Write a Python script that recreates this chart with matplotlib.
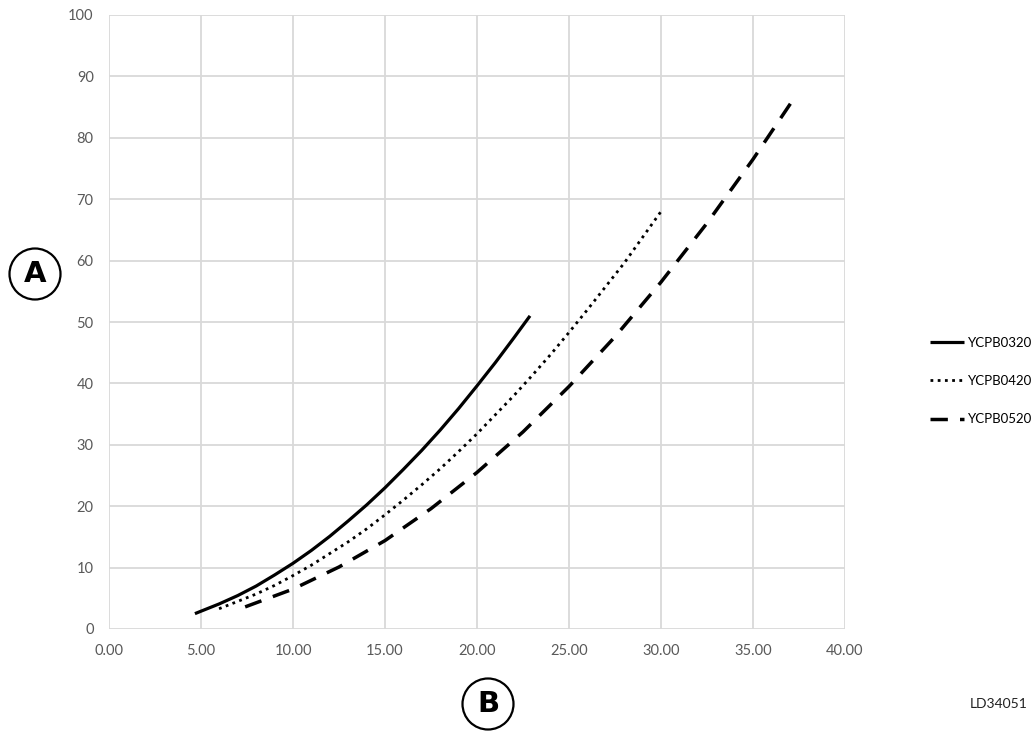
import matplotlib
matplotlib.use("Agg")
import matplotlib.pyplot as plt
from matplotlib.patches import Circle

plt.rcParams['font.family'] = ['Lato', 'DejaVu Sans']

# values
x_0320 = [4.67, 5, 6, 7, 8, 9, 10, 11, 12, 13, 14, 15, 16, 17, 18, 19, 20, 21, 22, 22.88]
y_0320 = [2.5, 2.9, 4.1, 5.45, 7.0, 8.8, 10.7, 12.8, 15.1, 17.6, 20.2, 23.0, 26.0, 29.1,
          32.4, 35.9, 39.6, 43.4, 47.4, 51.0]

x_0420 = [5.98, 7, 8, 9, 10, 11, 12, 13, 14, 15, 16, 17, 18, 19, 20, 21, 22, 23, 24, 25,
          26, 27, 28, 29, 30]
y_0420 = [3.3, 4.5, 5.7, 7.1, 8.7, 10.4, 12.3, 14.2, 16.3, 18.6, 21.0, 23.5, 26.1, 28.9,
          31.8, 34.9, 38.0, 41.3, 44.7, 48.3, 52.0, 55.8, 59.6, 63.8, 68.0]

x_0520 = [7.4, 10, 12.5, 15, 17.5, 20, 22.5, 25, 27.5, 30, 32.5, 35, 37.2]
y_0520 = [3.6, 6.5, 10.1, 14.4, 19.6, 25.5, 32.1, 39.5, 47.6, 56.5, 66.1, 76.5, 86.3]

x_ticks = [0, 5, 10, 15, 20, 25, 30, 35, 40]
y_ticks = [0, 10, 20, 30, 40, 50, 60, 70, 80, 90, 100]

fig = plt.figure(figsize=(10.32, 7.31), dpi=100)
ax = fig.add_axes([109/1032, 1 - 629/731, 736/1032, 614/731])

ax.plot(x_0320, y_0320, color='black', lw=2.3, label='YCPB0320', solid_capstyle='butt')
ax.plot(x_0420, y_0420, color='black', lw=2.0, ls=(0, (1, 1.6)), label='YCPB0420')
ax.plot(x_0520, y_0520, color='black', lw=2.5, ls=(0, (5, 3.5)), label='YCPB0520')

ax.set_xlim(0, 40)
ax.set_ylim(0, 100)
ax.set_xticks(x_ticks)
ax.set_xticklabels([f"{v:.2f}" for v in x_ticks])
ax.set_yticks(y_ticks)
ax.grid(True, color='#d9d9d9', lw=1.3)
ax.set_axisbelow(True)
for s in ax.spines.values():
    s.set_visible(False)
ax.tick_params(length=0, labelsize=10.5, labelcolor='#595959', pad=11)

fig.legend(loc='center left', bbox_to_anchor=(930/1032, 1 - 381/731), frameon=False,
           handlelength=2.6, handletextpad=0.3, labelspacing=2.0, fontsize=9.5,
           borderpad=0, borderaxespad=0)

# circled axis markers
for cx, cy, letter in [(0.35, (731 - 274) / 100, 'A'), (4.88, (731 - 704) / 100, 'B')]:
    fig.add_artist(Circle((cx, cy), 0.255, transform=fig.dpi_scale_trans,
                          fill=False, edgecolor='black', lw=1.6))
    fig.text(cx / 10.32, cy / 7.31, letter, ha='center', va='center',
             fontsize=21, fontweight='bold', family='DejaVu Sans')

fig.text(1028 / 1032, 1 - 704 / 731, 'LD34051', ha='right', va='center',
         fontsize=10, color='#222222')

fig.savefig('out.png', dpi=100)
